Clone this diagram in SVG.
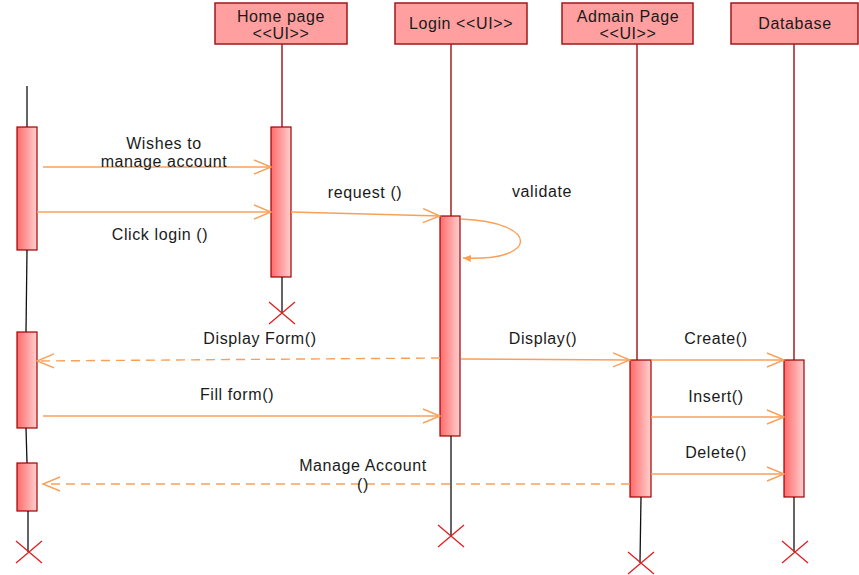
<svg xmlns="http://www.w3.org/2000/svg" width="859" height="575" viewBox="0 0 859 575">
<style>
.box{fill:#ff9f9f;stroke:#a01818;stroke-width:1.5}
.lbl{font-family:"Liberation Sans",Arial,sans-serif;font-size:16px;letter-spacing:0.6px;fill:#1a1a1a;text-anchor:middle}
.act{fill:url(#g);stroke:#a00000;stroke-width:1.2}
.ll{stroke:#a02020;stroke-width:1.5;fill:none}
.blk{stroke:#111;stroke-width:1.3;fill:none}
.msg{stroke:#f9a058;stroke-width:1.4;fill:none}
.dash{stroke-dasharray:9 6}
.x{stroke:#e02020;stroke-width:1.3}
</style>
<defs>
<linearGradient id="g" x1="0" x2="1" y1="0" y2="0">
<stop offset="0" stop-color="#ff6a6a"/>
<stop offset="1" stop-color="#ffd0d0"/>
</linearGradient>
<marker id="a" markerUnits="userSpaceOnUse" markerWidth="20" markerHeight="16" refX="18" refY="8" orient="auto">
<path d="M1,1 L18,8 L1,15" fill="none" stroke="#f9a058" stroke-width="1.4"/>
</marker>
<marker id="s" markerUnits="userSpaceOnUse" markerWidth="10" markerHeight="8" refX="8" refY="4" orient="auto">
<path d="M0,0.5 L8,4 L0,7.5 Z" fill="#f9a058"/>
</marker>
</defs>
<g id="home">
<rect class="box" x="215" y="3" width="132" height="41"/>
<text class="lbl" x="281" y="22">Home page</text>
<text class="lbl" x="281" y="39">&lt;&lt;UI&gt;&gt;</text>
<line class="ll" x1="282" y1="44" x2="282" y2="127"/>
<rect class="act" x="271" y="127" width="20" height="150"/>
<line class="blk" x1="282" y1="277" x2="282" y2="313"/>
<path class="x" d="M269,302 L295,324 M295,302 L269,324"/>
</g>
<g id="login">
<rect class="box" x="395" y="3" width="132" height="41"/>
<text class="lbl" x="461" y="29">Login &lt;&lt;UI&gt;&gt;</text>
<line class="ll" x1="451" y1="44" x2="451" y2="216"/>
<rect class="act" x="440" y="216" width="20" height="220"/>
<line class="blk" x1="451" y1="436" x2="451" y2="536"/>
<path class="x" d="M438,525 L464,547 M464,525 L438,547"/>
</g>
<g id="admain">
<rect class="box" x="562" y="3" width="131" height="41"/>
<text class="lbl" x="628" y="22">Admain Page</text>
<text class="lbl" x="628" y="39">&lt;&lt;UI&gt;&gt;</text>
<line class="ll" x1="637" y1="44" x2="637" y2="360"/>
<rect class="act" x="630" y="360" width="21" height="137"/>
<line class="blk" x1="641" y1="497" x2="640" y2="563"/>
<path class="x" d="M628,552 L654,574 M654,552 L628,574"/>
</g>
<g id="database">
<rect class="box" x="731" y="3" width="127" height="41"/>
<text class="lbl" x="795" y="29">Database</text>
<line class="ll" x1="794" y1="44" x2="794" y2="360"/>
<rect class="act" x="784" y="360" width="20" height="137"/>
<line class="blk" x1="794" y1="497" x2="794" y2="552"/>
<path class="x" d="M782,541 L808,563 M808,541 L782,563"/>
</g>
<g id="actor">
<line class="blk" x1="27" y1="86" x2="27" y2="127"/>
<rect class="act" x="17" y="127" width="20" height="123"/>
<line class="blk" x1="27" y1="250" x2="26" y2="332"/>
<rect class="act" x="17" y="332" width="20" height="96"/>
<line class="blk" x1="26" y1="428" x2="27" y2="463"/>
<rect class="act" x="17" y="463" width="20" height="48"/>
<line class="blk" x1="28" y1="511" x2="28" y2="552"/>
<path class="x" d="M16,541 L42,563 M42,541 L16,563"/>
</g>
<g id="connectors">
<line class="msg" x1="43" y1="167" x2="271" y2="167" marker-end="url(#a)"/>
<line class="msg" x1="37" y1="212" x2="271" y2="212" marker-end="url(#a)"/>
<line class="msg" x1="291" y1="212" x2="440" y2="216" marker-end="url(#a)"/>
<path class="msg" d="M461,219 C540,222 540,262 463,258" marker-end="url(#s)"/>
<line class="msg dash" x1="440" y1="358" x2="37" y2="361" marker-end="url(#a)"/>
<line class="msg" x1="461" y1="359" x2="630" y2="360" marker-end="url(#a)"/>
<line class="msg" x1="651" y1="360" x2="784" y2="360" marker-end="url(#a)"/>
<line class="msg" x1="43" y1="416" x2="440" y2="416" marker-end="url(#a)"/>
<line class="msg" x1="651" y1="417" x2="784" y2="417" marker-end="url(#a)"/>
<line class="msg" x1="651" y1="474" x2="784" y2="474" marker-end="url(#a)"/>
<line class="msg dash" x1="630" y1="484" x2="43" y2="484" marker-end="url(#a)"/>
</g>
<g id="labels">
<text class="lbl" x="164" y="149">Wishes to</text>
<text class="lbl" x="164" y="167">manage account</text>
<text class="lbl" x="160" y="240">Click login ()</text>
<text class="lbl" x="365" y="198">request ()</text>
<text class="lbl" x="542" y="197">validate</text>
<text class="lbl" x="260" y="344">Display Form()</text>
<text class="lbl" x="543" y="344">Display()</text>
<text class="lbl" x="716" y="344">Create()</text>
<text class="lbl" x="237" y="400">Fill form()</text>
<text class="lbl" x="716" y="402">Insert()</text>
<text class="lbl" x="716" y="458">Delete()</text>
<text class="lbl" x="363" y="471">Manage Account</text>
<text class="lbl" x="363" y="490">()</text>
</g>
</svg>
